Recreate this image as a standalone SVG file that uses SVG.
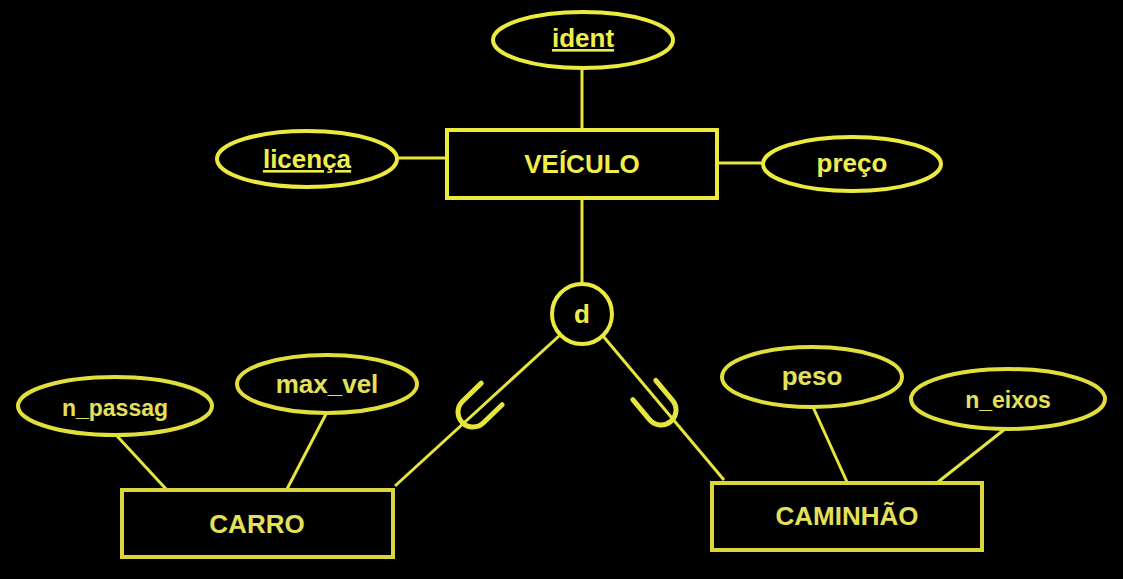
<svg xmlns="http://www.w3.org/2000/svg" width="1123" height="579" viewBox="0 0 1123 579">
<style>
.bg{fill:#000}
.ent{fill:none;stroke:#ECEA3E;stroke-width:4}
.entl{fill:none;stroke:#DAD63C;stroke-width:4}
.att{fill:none;stroke:#ECEA3E;stroke-width:4}
.attl{fill:none;stroke:#E2DE3E;stroke-width:4}
.ln{fill:none;stroke:#E6E43E;stroke-width:3}
.sub{fill:none;stroke:#E6E43E;stroke-width:5;stroke-linecap:round}
text{font-family:"Liberation Sans",Arial,sans-serif;font-weight:bold;text-anchor:middle;fill:#F0EE4A}
.tl{fill:#E4E05A}
.big{font-size:26px}
.sm{font-size:23px}
.u{text-decoration:underline}
</style>
<rect class="bg" x="0" y="0" width="1123" height="579"/>
<g id="connectors">
<line class="ln" x1="582" y1="70" x2="582" y2="129"/>
<line class="ln" x1="397" y1="158" x2="446" y2="158"/>
<line class="ln" x1="717" y1="163" x2="763" y2="163"/>
<line class="ln" x1="582" y1="199" x2="582" y2="285"/>
<line class="ln" x1="559" y1="336" x2="395" y2="486"/>
<line class="ln" x1="603" y1="336" x2="724" y2="480"/>
<line class="ln" x1="117" y1="436" x2="166" y2="489"/>
<line class="ln" x1="326" y1="414" x2="286" y2="491"/>
<line class="ln" x1="813" y1="407" x2="847" y2="482"/>
<line class="ln" x1="1005" y1="429" x2="938" y2="482"/>
<path class="sub" transform="translate(473,412) rotate(-44)" d="M26,-15 L0,-15 A15,15 0 0 0 0,15 L26,15"/>
<path class="sub" transform="translate(661,410) rotate(-130)" d="M26,-15 L0,-15 A15,15 0 0 0 0,15 L26,15"/>
</g>
<g id="veiculo">
<rect class="ent" x="447" y="130" width="270" height="68"/>
<text class="big" x="582" y="173">VEÍCULO</text>
</g>
<g id="ident">
<ellipse class="att" cx="583" cy="40" rx="90" ry="28"/>
<text class="big u" x="583" y="47">ident</text>
</g>
<g id="licenca">
<ellipse class="att" cx="307" cy="159" rx="90" ry="28"/>
<text class="big u" x="307" y="168">licença</text>
</g>
<g id="preco">
<ellipse class="att" cx="852" cy="164" rx="89" ry="27"/>
<text class="big" x="852" y="172">preço</text>
</g>
<g id="disjoint">
<circle class="att" cx="582" cy="314" r="30"/>
<text class="big" x="582" y="323">d</text>
</g>
<g id="carro">
<rect class="entl" x="122" y="490" width="271" height="67"/>
<text class="big tl" x="257" y="533">CARRO</text>
</g>
<g id="n_passag">
<ellipse class="attl" cx="115" cy="406" rx="97" ry="29"/>
<text class="sm tl" x="115" y="416">n_passag</text>
</g>
<g id="max_vel">
<ellipse class="attl" cx="327" cy="384" rx="90" ry="29"/>
<text class="big tl" x="327" y="393">max_vel</text>
</g>
<g id="caminhao">
<rect class="entl" x="712" y="483" width="270" height="67"/>
<text class="big tl" x="847" y="525">CAMINHÃO</text>
</g>
<g id="peso">
<ellipse class="attl" cx="812" cy="377" rx="90" ry="30"/>
<text class="big tl" x="812" y="385">peso</text>
</g>
<g id="n_eixos">
<ellipse class="attl" cx="1008" cy="399" rx="97" ry="30"/>
<text class="sm tl" x="1008" y="408">n_eixos</text>
</g>
</svg>
